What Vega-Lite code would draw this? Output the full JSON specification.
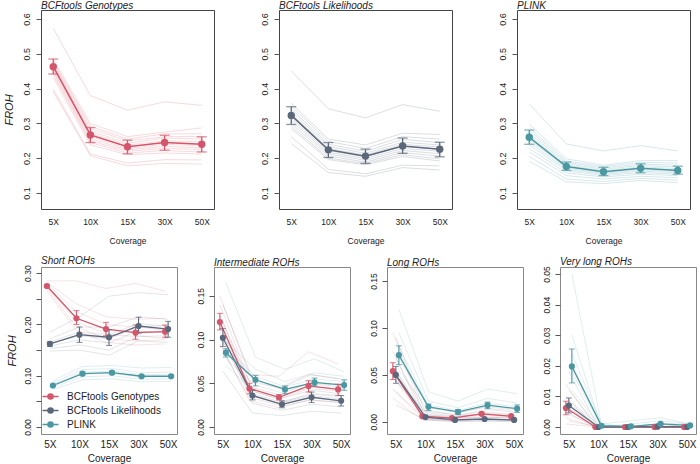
{
"$schema":"https://vega.github.io/schema/vega-lite/v6.json",
"background":"white",
"padding":{"left":2,"top":0,"right":2,"bottom":0},
"spacing":9,
"resolve":{"scale":{"color":"independent","stroke":"independent","xOffset":"independent"},"legend":{"color":"independent","stroke":"independent"}},
"datasets":{
"lines":[
{"p":"A","s":"G","id":1,"5X":0.573,"10X":0.380,"15X":0.338,"30X":0.362,"50X":0.352},
{"p":"A","s":"G","id":2,"5X":0.485,"10X":0.300,"15X":0.262,"30X":0.275,"50X":0.287},
{"p":"A","s":"G","id":3,"5X":0.480,"10X":0.292,"15X":0.255,"30X":0.270,"50X":0.270},
{"p":"A","s":"G","id":4,"5X":0.475,"10X":0.285,"15X":0.250,"30X":0.262,"50X":0.262},
{"p":"A","s":"G","id":5,"5X":0.470,"10X":0.278,"15X":0.243,"30X":0.258,"50X":0.255},
{"p":"A","s":"G","id":6,"5X":0.466,"10X":0.272,"15X":0.238,"30X":0.250,"50X":0.248},
{"p":"A","s":"G","id":7,"5X":0.462,"10X":0.268,"15X":0.233,"30X":0.245,"50X":0.242},
{"p":"A","s":"G","id":8,"5X":0.458,"10X":0.262,"15X":0.228,"30X":0.240,"50X":0.236},
{"p":"A","s":"G","id":9,"5X":0.452,"10X":0.256,"15X":0.224,"30X":0.234,"50X":0.230},
{"p":"A","s":"G","id":10,"5X":0.447,"10X":0.250,"15X":0.220,"30X":0.228,"50X":0.225},
{"p":"A","s":"G","id":11,"5X":0.440,"10X":0.245,"15X":0.215,"30X":0.222,"50X":0.218},
{"p":"A","s":"G","id":12,"5X":0.432,"10X":0.238,"15X":0.210,"30X":0.215,"50X":0.212},
{"p":"A","s":"G","id":13,"5X":0.398,"10X":0.212,"15X":0.186,"30X":0.196,"50X":0.195},
{"p":"A","s":"G","id":14,"5X":0.391,"10X":0.207,"15X":0.178,"30X":0.185,"50X":0.183},
{"p":"B","s":"L","id":1,"5X":0.451,"10X":0.342,"15X":0.316,"30X":0.354,"50X":0.335},
{"p":"B","s":"L","id":2,"5X":0.358,"10X":0.255,"15X":0.238,"30X":0.272,"50X":0.268},
{"p":"B","s":"L","id":3,"5X":0.350,"10X":0.248,"15X":0.228,"30X":0.262,"50X":0.255},
{"p":"B","s":"L","id":4,"5X":0.342,"10X":0.240,"15X":0.220,"30X":0.254,"50X":0.245},
{"p":"B","s":"L","id":5,"5X":0.335,"10X":0.234,"15X":0.214,"30X":0.246,"50X":0.238},
{"p":"B","s":"L","id":6,"5X":0.328,"10X":0.228,"15X":0.209,"30X":0.240,"50X":0.232},
{"p":"B","s":"L","id":7,"5X":0.322,"10X":0.222,"15X":0.204,"30X":0.234,"50X":0.226},
{"p":"B","s":"L","id":8,"5X":0.315,"10X":0.217,"15X":0.199,"30X":0.228,"50X":0.220},
{"p":"B","s":"L","id":9,"5X":0.308,"10X":0.212,"15X":0.194,"30X":0.222,"50X":0.213},
{"p":"B","s":"L","id":10,"5X":0.300,"10X":0.206,"15X":0.189,"30X":0.216,"50X":0.206},
{"p":"B","s":"L","id":11,"5X":0.292,"10X":0.200,"15X":0.185,"30X":0.210,"50X":0.198},
{"p":"B","s":"L","id":12,"5X":0.285,"10X":0.196,"15X":0.181,"30X":0.205,"50X":0.192},
{"p":"B","s":"L","id":13,"5X":0.262,"10X":0.168,"15X":0.155,"30X":0.180,"50X":0.178},
{"p":"B","s":"L","id":14,"5X":0.242,"10X":0.159,"15X":0.148,"30X":0.173,"50X":0.166},
{"p":"C","s":"P","id":1,"5X":0.356,"10X":0.241,"15X":0.221,"30X":0.236,"50X":0.221},
{"p":"C","s":"P","id":2,"5X":0.298,"10X":0.198,"15X":0.180,"30X":0.193,"50X":0.193},
{"p":"C","s":"P","id":3,"5X":0.288,"10X":0.192,"15X":0.176,"30X":0.188,"50X":0.186},
{"p":"C","s":"P","id":4,"5X":0.280,"10X":0.188,"15X":0.172,"30X":0.183,"50X":0.180},
{"p":"C","s":"P","id":5,"5X":0.273,"10X":0.184,"15X":0.168,"30X":0.179,"50X":0.175},
{"p":"C","s":"P","id":6,"5X":0.266,"10X":0.180,"15X":0.164,"30X":0.175,"50X":0.170},
{"p":"C","s":"P","id":7,"5X":0.260,"10X":0.176,"15X":0.160,"30X":0.171,"50X":0.166},
{"p":"C","s":"P","id":8,"5X":0.253,"10X":0.172,"15X":0.157,"30X":0.167,"50X":0.162},
{"p":"C","s":"P","id":9,"5X":0.246,"10X":0.168,"15X":0.154,"30X":0.163,"50X":0.158},
{"p":"C","s":"P","id":10,"5X":0.238,"10X":0.164,"15X":0.150,"30X":0.159,"50X":0.154},
{"p":"C","s":"P","id":11,"5X":0.228,"10X":0.158,"15X":0.146,"30X":0.154,"50X":0.150},
{"p":"C","s":"P","id":12,"5X":0.218,"10X":0.150,"15X":0.140,"30X":0.148,"50X":0.144},
{"p":"C","s":"P","id":13,"5X":0.205,"10X":0.140,"15X":0.133,"30X":0.142,"50X":0.137},
{"p":"C","s":"P","id":14,"5X":0.191,"10X":0.132,"15X":0.127,"30X":0.136,"50X":0.130},
{"p":"D","s":"G","id":1,"5X":0.285,"10X":0.285,"15X":0.270,"30X":0.280,"50X":0.265},
{"p":"D","s":"G","id":2,"5X":0.282,"10X":0.240,"15X":0.215,"30X":0.210,"50X":0.212},
{"p":"D","s":"G","id":3,"5X":0.280,"10X":0.225,"15X":0.200,"30X":0.195,"50X":0.198},
{"p":"D","s":"G","id":4,"5X":0.277,"10X":0.212,"15X":0.190,"30X":0.185,"50X":0.186},
{"p":"D","s":"G","id":5,"5X":0.274,"10X":0.205,"15X":0.182,"30X":0.176,"50X":0.178},
{"p":"D","s":"G","id":6,"5X":0.270,"10X":0.195,"15X":0.172,"30X":0.168,"50X":0.170},
{"p":"D","s":"G","id":7,"5X":0.266,"10X":0.188,"15X":0.165,"30X":0.160,"50X":0.162},
{"p":"D","s":"L","id":1,"5X":0.185,"10X":0.215,"15X":0.255,"30X":0.262,"50X":0.258},
{"p":"D","s":"L","id":2,"5X":0.172,"10X":0.195,"15X":0.195,"30X":0.215,"50X":0.210},
{"p":"D","s":"L","id":3,"5X":0.166,"10X":0.185,"15X":0.180,"30X":0.202,"50X":0.196},
{"p":"D","s":"L","id":4,"5X":0.162,"10X":0.178,"15X":0.172,"30X":0.195,"50X":0.188},
{"p":"D","s":"L","id":5,"5X":0.158,"10X":0.170,"15X":0.164,"30X":0.188,"50X":0.182},
{"p":"D","s":"L","id":6,"5X":0.153,"10X":0.160,"15X":0.150,"30X":0.178,"50X":0.172},
{"p":"D","s":"L","id":7,"5X":0.148,"10X":0.150,"15X":0.140,"30X":0.168,"50X":0.165},
{"p":"D","s":"P","id":1,"5X":0.090,"10X":0.118,"15X":0.120,"30X":0.115,"50X":0.116},
{"p":"D","s":"P","id":2,"5X":0.086,"10X":0.112,"15X":0.114,"30X":0.106,"50X":0.107},
{"p":"D","s":"P","id":3,"5X":0.083,"10X":0.107,"15X":0.109,"30X":0.102,"50X":0.102},
{"p":"D","s":"P","id":4,"5X":0.080,"10X":0.103,"15X":0.105,"30X":0.098,"50X":0.098},
{"p":"D","s":"P","id":5,"5X":0.077,"10X":0.098,"15X":0.100,"30X":0.093,"50X":0.094},
{"p":"D","s":"P","id":6,"5X":0.073,"10X":0.092,"15X":0.094,"30X":0.088,"50X":0.089},
{"p":"E","s":"G","id":1,"5X":0.150,"10X":0.060,"15X":0.058,"30X":0.086,"50X":0.072},
{"p":"E","s":"G","id":2,"5X":0.140,"10X":0.052,"15X":0.045,"30X":0.060,"50X":0.055},
{"p":"E","s":"G","id":3,"5X":0.128,"10X":0.046,"15X":0.037,"30X":0.050,"50X":0.046},
{"p":"E","s":"G","id":4,"5X":0.118,"10X":0.042,"15X":0.032,"30X":0.044,"50X":0.041},
{"p":"E","s":"G","id":5,"5X":0.108,"10X":0.036,"15X":0.027,"30X":0.038,"50X":0.035},
{"p":"E","s":"G","id":6,"5X":0.095,"10X":0.030,"15X":0.022,"30X":0.031,"50X":0.028},
{"p":"E","s":"L","id":1,"5X":0.140,"10X":0.055,"15X":0.045,"30X":0.060,"50X":0.055},
{"p":"E","s":"L","id":2,"5X":0.120,"10X":0.044,"15X":0.033,"30X":0.042,"50X":0.038},
{"p":"E","s":"L","id":3,"5X":0.106,"10X":0.038,"15X":0.028,"30X":0.036,"50X":0.032},
{"p":"E","s":"L","id":4,"5X":0.098,"10X":0.033,"15X":0.024,"30X":0.031,"50X":0.028},
{"p":"E","s":"L","id":5,"5X":0.088,"10X":0.027,"15X":0.019,"30X":0.026,"50X":0.023},
{"p":"E","s":"L","id":6,"5X":0.064,"10X":0.016,"15X":0.013,"30X":0.018,"50X":0.016},
{"p":"E","s":"P","id":1,"5X":0.165,"10X":0.080,"15X":0.066,"30X":0.078,"50X":0.063},
{"p":"E","s":"P","id":2,"5X":0.098,"10X":0.066,"15X":0.052,"30X":0.062,"50X":0.058},
{"p":"E","s":"P","id":3,"5X":0.090,"10X":0.058,"15X":0.046,"30X":0.055,"50X":0.052},
{"p":"E","s":"P","id":4,"5X":0.084,"10X":0.053,"15X":0.042,"30X":0.050,"50X":0.047},
{"p":"E","s":"P","id":5,"5X":0.078,"10X":0.048,"15X":0.038,"30X":0.046,"50X":0.043},
{"p":"E","s":"P","id":6,"5X":0.070,"10X":0.040,"15X":0.030,"30X":0.038,"50X":0.036},
{"p":"F","s":"G","id":1,"5X":0.095,"10X":0.012,"15X":0.008,"30X":0.015,"50X":0.012},
{"p":"F","s":"G","id":2,"5X":0.075,"10X":0.008,"15X":0.005,"30X":0.011,"50X":0.008},
{"p":"F","s":"G","id":3,"5X":0.060,"10X":0.006,"15X":0.004,"30X":0.009,"50X":0.006},
{"p":"F","s":"G","id":4,"5X":0.048,"10X":0.005,"15X":0.003,"30X":0.007,"50X":0.005},
{"p":"F","s":"G","id":5,"5X":0.035,"10X":0.003,"15X":0.002,"30X":0.005,"50X":0.004},
{"p":"F","s":"G","id":6,"5X":0.025,"10X":0.002,"15X":0.001,"30X":0.003,"50X":0.002},
{"p":"F","s":"L","id":1,"5X":0.090,"10X":0.010,"15X":0.006,"30X":0.008,"50X":0.006},
{"p":"F","s":"L","id":2,"5X":0.068,"10X":0.007,"15X":0.004,"30X":0.005,"50X":0.004},
{"p":"F","s":"L","id":3,"5X":0.055,"10X":0.005,"15X":0.002,"30X":0.003,"50X":0.002},
{"p":"F","s":"L","id":4,"5X":0.045,"10X":0.004,"15X":0.002,"30X":0.002,"50X":0.002},
{"p":"F","s":"L","id":5,"5X":0.032,"10X":0.003,"15X":0.001,"30X":0.001,"50X":0.001},
{"p":"F","s":"L","id":6,"5X":0.018,"10X":0.002,"15X":0.000,"30X":0.001,"50X":0.000},
{"p":"F","s":"P","id":1,"5X":0.120,"10X":0.032,"15X":0.022,"30X":0.035,"50X":0.030},
{"p":"F","s":"P","id":2,"5X":0.095,"10X":0.022,"15X":0.015,"30X":0.025,"50X":0.020},
{"p":"F","s":"P","id":3,"5X":0.080,"10X":0.018,"15X":0.012,"30X":0.020,"50X":0.016},
{"p":"F","s":"P","id":4,"5X":0.068,"10X":0.015,"15X":0.010,"30X":0.016,"50X":0.013},
{"p":"F","s":"P","id":5,"5X":0.055,"10X":0.012,"15X":0.007,"30X":0.013,"50X":0.010},
{"p":"F","s":"P","id":6,"5X":0.040,"10X":0.008,"15X":0.005,"30X":0.009,"50X":0.007},
{"p":"G","s":"G","id":1,"5X":0.014,"10X":0.000,"15X":0.000,"30X":0.000,"50X":0.000},
{"p":"G","s":"G","id":2,"5X":0.010,"10X":0.000,"15X":0.000,"30X":0.000,"50X":0.000},
{"p":"G","s":"G","id":3,"5X":0.007,"10X":0.000,"15X":0.000,"30X":0.000,"50X":0.000},
{"p":"G","s":"G","id":4,"5X":0.005,"10X":0.000,"15X":0.000,"30X":0.000,"50X":0.000},
{"p":"G","s":"G","id":5,"5X":0.003,"10X":0.000,"15X":0.000,"30X":0.000,"50X":0.000},
{"p":"G","s":"G","id":6,"5X":0.001,"10X":0.000,"15X":0.000,"30X":0.000,"50X":0.000},
{"p":"G","s":"L","id":1,"5X":0.018,"10X":0.000,"15X":0.000,"30X":0.001,"50X":0.000},
{"p":"G","s":"L","id":2,"5X":0.012,"10X":0.000,"15X":0.000,"30X":0.000,"50X":0.000},
{"p":"G","s":"L","id":3,"5X":0.008,"10X":0.000,"15X":0.000,"30X":0.000,"50X":0.000},
{"p":"G","s":"L","id":4,"5X":0.006,"10X":0.000,"15X":0.000,"30X":0.000,"50X":0.000},
{"p":"G","s":"L","id":5,"5X":0.004,"10X":0.000,"15X":0.000,"30X":0.000,"50X":0.000},
{"p":"G","s":"L","id":6,"5X":0.002,"10X":0.000,"15X":0.000,"30X":0.000,"50X":0.000},
{"p":"G","s":"P","id":1,"5X":0.050,"10X":0.001,"15X":0.002,"30X":0.003,"50X":0.001},
{"p":"G","s":"P","id":2,"5X":0.030,"10X":0.000,"15X":0.001,"30X":0.002,"50X":0.001},
{"p":"G","s":"P","id":3,"5X":0.024,"10X":0.001,"15X":0.000,"30X":0.001,"50X":0.000},
{"p":"G","s":"P","id":4,"5X":0.018,"10X":0.000,"15X":0.000,"30X":0.001,"50X":0.001},
{"p":"G","s":"P","id":5,"5X":0.012,"10X":0.000,"15X":0.000,"30X":0.000,"50X":0.000},
{"p":"G","s":"P","id":6,"5X":0.008,"10X":0.000,"15X":0.000,"30X":0.000,"50X":0.000}
],
"means":[
{"p":"A","s":"G","cov":"5X","F":0.463,"lo":0.442,"hi":0.485},
{"p":"A","s":"G","cov":"10X","F":0.267,"lo":0.245,"hi":0.288},
{"p":"A","s":"G","cov":"15X","F":0.233,"lo":0.2125,"hi":0.252},
{"p":"A","s":"G","cov":"30X","F":0.245,"lo":0.223,"hi":0.266},
{"p":"A","s":"G","cov":"50X","F":0.240,"lo":0.218,"hi":0.2615},
{"p":"B","s":"L","cov":"5X","F":0.323,"lo":0.297,"hi":0.348},
{"p":"B","s":"L","cov":"10X","F":0.224,"lo":0.202,"hi":0.245},
{"p":"B","s":"L","cov":"15X","F":0.206,"lo":0.185,"hi":0.226},
{"p":"B","s":"L","cov":"30X","F":0.235,"lo":0.214,"hi":0.258},
{"p":"B","s":"L","cov":"50X","F":0.226,"lo":0.204,"hi":0.246},
{"p":"C","s":"P","cov":"5X","F":0.260,"lo":0.240,"hi":0.281},
{"p":"C","s":"P","cov":"10X","F":0.176,"lo":0.165,"hi":0.189},
{"p":"C","s":"P","cov":"15X","F":0.161,"lo":0.150,"hi":0.174},
{"p":"C","s":"P","cov":"30X","F":0.171,"lo":0.158,"hi":0.184},
{"p":"C","s":"P","cov":"50X","F":0.165,"lo":0.154,"hi":0.177},
{"p":"D","s":"G","cov":"5X","F":0.275,"lo":0.273,"hi":0.277},
{"p":"D","s":"G","cov":"10X","F":0.212,"lo":0.200,"hi":0.227},
{"p":"D","s":"G","cov":"15X","F":0.191,"lo":0.178,"hi":0.204},
{"p":"D","s":"G","cov":"30X","F":0.184,"lo":0.171,"hi":0.199},
{"p":"D","s":"G","cov":"50X","F":0.186,"lo":0.175,"hi":0.199},
{"p":"D","s":"L","cov":"5X","F":0.162,"lo":0.157,"hi":0.166},
{"p":"D","s":"L","cov":"10X","F":0.180,"lo":0.165,"hi":0.195},
{"p":"D","s":"L","cov":"15X","F":0.175,"lo":0.159,"hi":0.190},
{"p":"D","s":"L","cov":"30X","F":0.197,"lo":0.183,"hi":0.214},
{"p":"D","s":"L","cov":"50X","F":0.191,"lo":0.175,"hi":0.206},
{"p":"D","s":"P","cov":"5X","F":0.081,"lo":0.079,"hi":0.083},
{"p":"D","s":"P","cov":"10X","F":0.104,"lo":0.101,"hi":0.107},
{"p":"D","s":"P","cov":"15X","F":0.106,"lo":0.103,"hi":0.109},
{"p":"D","s":"P","cov":"30X","F":0.099,"lo":0.097,"hi":0.101},
{"p":"D","s":"P","cov":"50X","F":0.099,"lo":0.097,"hi":0.101},
{"p":"E","s":"G","cov":"5X","F":0.120,"lo":0.111,"hi":0.130},
{"p":"E","s":"G","cov":"10X","F":0.044,"lo":0.038,"hi":0.050},
{"p":"E","s":"G","cov":"15X","F":0.034,"lo":0.031,"hi":0.037},
{"p":"E","s":"G","cov":"30X","F":0.047,"lo":0.040,"hi":0.053},
{"p":"E","s":"G","cov":"50X","F":0.043,"lo":0.036,"hi":0.049},
{"p":"E","s":"L","cov":"5X","F":0.102,"lo":0.092,"hi":0.1125},
{"p":"E","s":"L","cov":"10X","F":0.036,"lo":0.031,"hi":0.042},
{"p":"E","s":"L","cov":"15X","F":0.026,"lo":0.022,"hi":0.030},
{"p":"E","s":"L","cov":"30X","F":0.034,"lo":0.028,"hi":0.040},
{"p":"E","s":"L","cov":"50X","F":0.030,"lo":0.024,"hi":0.036},
{"p":"E","s":"P","cov":"5X","F":0.085,"lo":0.080,"hi":0.0895},
{"p":"E","s":"P","cov":"10X","F":0.054,"lo":0.047,"hi":0.059},
{"p":"E","s":"P","cov":"15X","F":0.043,"lo":0.038,"hi":0.047},
{"p":"E","s":"P","cov":"30X","F":0.051,"lo":0.047,"hi":0.056},
{"p":"E","s":"P","cov":"50X","F":0.048,"lo":0.042,"hi":0.054},
{"p":"F","s":"G","cov":"5X","F":0.054,"lo":0.045,"hi":0.063},
{"p":"F","s":"G","cov":"10X","F":0.006,"lo":0.005,"hi":0.007},
{"p":"F","s":"G","cov":"15X","F":0.004,"lo":0.0035,"hi":0.0045},
{"p":"F","s":"G","cov":"30X","F":0.0085,"lo":0.0075,"hi":0.0095},
{"p":"F","s":"G","cov":"50X","F":0.006,"lo":0.005,"hi":0.007},
{"p":"F","s":"L","cov":"5X","F":0.050,"lo":0.041,"hi":0.059},
{"p":"F","s":"L","cov":"10X","F":0.005,"lo":0.004,"hi":0.006},
{"p":"F","s":"L","cov":"15X","F":0.002,"lo":0.0015,"hi":0.0025},
{"p":"F","s":"L","cov":"30X","F":0.003,"lo":0.0025,"hi":0.0035},
{"p":"F","s":"L","cov":"50X","F":0.002,"lo":0.0015,"hi":0.0025},
{"p":"F","s":"P","cov":"5X","F":0.071,"lo":0.061,"hi":0.081},
{"p":"F","s":"P","cov":"10X","F":0.016,"lo":0.012,"hi":0.019},
{"p":"F","s":"P","cov":"15X","F":0.0105,"lo":0.008,"hi":0.013},
{"p":"F","s":"P","cov":"30X","F":0.0177,"lo":0.014,"hi":0.021},
{"p":"F","s":"P","cov":"50X","F":0.014,"lo":0.010,"hi":0.018},
{"p":"G","s":"G","cov":"5X","F":0.0062,"lo":0.0040,"hi":0.0084},
{"p":"G","s":"G","cov":"10X","F":0.0,"lo":0.0,"hi":0.0},
{"p":"G","s":"G","cov":"15X","F":0.0,"lo":0.0,"hi":0.0},
{"p":"G","s":"G","cov":"30X","F":0.0,"lo":0.0,"hi":0.0},
{"p":"G","s":"G","cov":"50X","F":0.0,"lo":0.0,"hi":0.0},
{"p":"G","s":"L","cov":"5X","F":0.0070,"lo":0.0046,"hi":0.0095},
{"p":"G","s":"L","cov":"10X","F":0.0,"lo":0.0,"hi":0.0},
{"p":"G","s":"L","cov":"15X","F":0.0,"lo":0.0,"hi":0.0},
{"p":"G","s":"L","cov":"30X","F":0.0001,"lo":0.0,"hi":0.0002},
{"p":"G","s":"L","cov":"50X","F":0.0,"lo":0.0,"hi":0.0},
{"p":"G","s":"P","cov":"5X","F":0.0198,"lo":0.0144,"hi":0.0255},
{"p":"G","s":"P","cov":"10X","F":0.0004,"lo":0.0002,"hi":0.0006},
{"p":"G","s":"P","cov":"15X","F":0.0002,"lo":0.0001,"hi":0.0003},
{"p":"G","s":"P","cov":"30X","F":0.0010,"lo":0.0007,"hi":0.0013},
{"p":"G","s":"P","cov":"50X","F":0.0005,"lo":0.0003,"hi":0.0007}
]
},
"vconcat":[
{"hconcat":[
{"width":173,"height":199,"title":{"text":"BCFtools Genotypes"},"view":{"stroke":"#444"},
"encoding":{"x":{"field":"cov","type":"ordinal","scale":{"type":"point","domain":["5X","10X","15X","30X","50X"],"padding":0.33},"axis":{"title":"Coverage","labelFontSize":8.5,"titleFontSize":8.5,"labelPadding":8,"titlePadding":11}},
"y":{"field":"F","type":"quantitative","scale":{"domain":[0.054,0.626],"nice":false,"zero":false},"axis":{"title":"FROH","values":[0.1,0.2,0.3,0.4,0.5,0.6],"format":".1f","titlePadding":8,"labelPadding":5,"labelFontSize":9}}},
"layer":[
{"data":{"name":"lines"},"transform":[{"filter":"datum.p=='A'"},{"fold":["5X","10X","15X","30X","50X"],"as":["cov","F"]}],"mark":{"type":"line","strokeWidth":0.8,"opacity":0.28},"encoding":{"color":{"field":"s","type":"nominal","scale":{"domain":["G","L","P"],"range":["#d4566a","#5b687c","#4b98a2"]},"legend":null},"detail":{"field":"id","type":"nominal"}}},
{"data":{"name":"means"},"transform":[{"filter":"datum.p=='A'"}],"mark":{"type":"line","strokeWidth":1.5},"encoding":{"color":{"field":"s","type":"nominal","scale":{"domain":["G","L","P"],"range":["#d4566a","#5b687c","#4b98a2"]},"legend":null}}},
{"data":{"name":"means"},"transform":[{"filter":"datum.p=='A'"}],"mark":{"type":"rule","strokeWidth":1.3},"encoding":{"y":{"field":"lo","type":"quantitative"},"y2":{"field":"hi"},"color":{"field":"s","type":"nominal","scale":{"domain":["G","L","P"],"range":["#d4566a","#5b687c","#4b98a2"]},"legend":null}}},
{"data":{"name":"means"},"transform":[{"filter":"datum.p=='A'"}],"mark":{"type":"tick","thickness":1.3,"size":10},"encoding":{"y":{"field":"lo","type":"quantitative"},"color":{"field":"s","type":"nominal","scale":{"domain":["G","L","P"],"range":["#d4566a","#5b687c","#4b98a2"]},"legend":null}}},
{"data":{"name":"means"},"transform":[{"filter":"datum.p=='A'"}],"mark":{"type":"tick","thickness":1.3,"size":10},"encoding":{"y":{"field":"hi","type":"quantitative"},"color":{"field":"s","type":"nominal","scale":{"domain":["G","L","P"],"range":["#d4566a","#5b687c","#4b98a2"]},"legend":null}}},
{"data":{"name":"means"},"transform":[{"filter":"datum.p=='A'"}],"mark":{"type":"point","filled":true,"size":55,"opacity":1},"encoding":{"color":{"field":"s","type":"nominal","scale":{"domain":["G","L","P"],"range":["#d4566a","#5b687c","#4b98a2"]},"legend":null}}},
{"data":{"values":[{"t":"A)"}]},"mark":{"type":"text","align":"left","baseline":"alphabetic","dx":-51,"dy":-1,"fontSize":11},"encoding":{"x":{"datum":"5X","type":"ordinal"},"y":{"datum":0.626,"type":"quantitative"},"text":{"field":"t","type":"nominal"},"color":{"value":"#111"}}}
]},
{"width":173,"height":199,"title":{"text":"BCFtools Likelihoods"},"view":{"stroke":"#444"},
"encoding":{"x":{"field":"cov","type":"ordinal","scale":{"type":"point","domain":["5X","10X","15X","30X","50X"],"padding":0.33},"axis":{"title":"Coverage","labelFontSize":8.5,"titleFontSize":8.5,"labelPadding":8,"titlePadding":11}},
"y":{"field":"F","type":"quantitative","scale":{"domain":[0.054,0.626],"nice":false,"zero":false},"axis":{"title":null,"values":[0.1,0.2,0.3,0.4,0.5,0.6],"format":".1f","labelPadding":5,"labelFontSize":9}}},
"layer":[
{"data":{"name":"lines"},"transform":[{"filter":"datum.p=='B'"},{"fold":["5X","10X","15X","30X","50X"],"as":["cov","F"]}],"mark":{"type":"line","strokeWidth":0.8,"opacity":0.28},"encoding":{"color":{"field":"s","type":"nominal","scale":{"domain":["G","L","P"],"range":["#d4566a","#5b687c","#4b98a2"]},"legend":null},"detail":{"field":"id","type":"nominal"}}},
{"data":{"name":"means"},"transform":[{"filter":"datum.p=='B'"}],"mark":{"type":"line","strokeWidth":1.5},"encoding":{"color":{"field":"s","type":"nominal","scale":{"domain":["G","L","P"],"range":["#d4566a","#5b687c","#4b98a2"]},"legend":null}}},
{"data":{"name":"means"},"transform":[{"filter":"datum.p=='B'"}],"mark":{"type":"rule","strokeWidth":1.3},"encoding":{"y":{"field":"lo","type":"quantitative"},"y2":{"field":"hi"},"color":{"field":"s","type":"nominal","scale":{"domain":["G","L","P"],"range":["#d4566a","#5b687c","#4b98a2"]},"legend":null}}},
{"data":{"name":"means"},"transform":[{"filter":"datum.p=='B'"}],"mark":{"type":"tick","thickness":1.3,"size":10},"encoding":{"y":{"field":"lo","type":"quantitative"},"color":{"field":"s","type":"nominal","scale":{"domain":["G","L","P"],"range":["#d4566a","#5b687c","#4b98a2"]},"legend":null}}},
{"data":{"name":"means"},"transform":[{"filter":"datum.p=='B'"}],"mark":{"type":"tick","thickness":1.3,"size":10},"encoding":{"y":{"field":"hi","type":"quantitative"},"color":{"field":"s","type":"nominal","scale":{"domain":["G","L","P"],"range":["#d4566a","#5b687c","#4b98a2"]},"legend":null}}},
{"data":{"name":"means"},"transform":[{"filter":"datum.p=='B'"}],"mark":{"type":"point","filled":true,"size":55,"opacity":1},"encoding":{"color":{"field":"s","type":"nominal","scale":{"domain":["G","L","P"],"range":["#d4566a","#5b687c","#4b98a2"]},"legend":null}}},
{"data":{"values":[{"t":"B)"}]},"mark":{"type":"text","align":"left","baseline":"alphabetic","dx":-56,"dy":-1,"fontSize":11},"encoding":{"x":{"datum":"5X","type":"ordinal"},"y":{"datum":0.626,"type":"quantitative"},"text":{"field":"t","type":"nominal"},"color":{"value":"#111"}}}
]},
{"width":173,"height":199,"title":{"text":"PLINK"},"view":{"stroke":"#444"},
"encoding":{"x":{"field":"cov","type":"ordinal","scale":{"type":"point","domain":["5X","10X","15X","30X","50X"],"padding":0.33},"axis":{"title":"Coverage","labelFontSize":8.5,"titleFontSize":8.5,"labelPadding":8,"titlePadding":11}},
"y":{"field":"F","type":"quantitative","scale":{"domain":[0.054,0.626],"nice":false,"zero":false},"axis":{"title":null,"values":[0.1,0.2,0.3,0.4,0.5,0.6],"format":".1f","labelPadding":5,"labelFontSize":9}}},
"layer":[
{"data":{"name":"lines"},"transform":[{"filter":"datum.p=='C'"},{"fold":["5X","10X","15X","30X","50X"],"as":["cov","F"]}],"mark":{"type":"line","strokeWidth":0.8,"opacity":0.28},"encoding":{"color":{"field":"s","type":"nominal","scale":{"domain":["G","L","P"],"range":["#d4566a","#5b687c","#4b98a2"]},"legend":null},"detail":{"field":"id","type":"nominal"}}},
{"data":{"name":"means"},"transform":[{"filter":"datum.p=='C'"}],"mark":{"type":"line","strokeWidth":1.5},"encoding":{"color":{"field":"s","type":"nominal","scale":{"domain":["G","L","P"],"range":["#d4566a","#5b687c","#4b98a2"]},"legend":null}}},
{"data":{"name":"means"},"transform":[{"filter":"datum.p=='C'"}],"mark":{"type":"rule","strokeWidth":1.3},"encoding":{"y":{"field":"lo","type":"quantitative"},"y2":{"field":"hi"},"color":{"field":"s","type":"nominal","scale":{"domain":["G","L","P"],"range":["#d4566a","#5b687c","#4b98a2"]},"legend":null}}},
{"data":{"name":"means"},"transform":[{"filter":"datum.p=='C'"}],"mark":{"type":"tick","thickness":1.3,"size":10},"encoding":{"y":{"field":"lo","type":"quantitative"},"color":{"field":"s","type":"nominal","scale":{"domain":["G","L","P"],"range":["#d4566a","#5b687c","#4b98a2"]},"legend":null}}},
{"data":{"name":"means"},"transform":[{"filter":"datum.p=='C'"}],"mark":{"type":"tick","thickness":1.3,"size":10},"encoding":{"y":{"field":"hi","type":"quantitative"},"color":{"field":"s","type":"nominal","scale":{"domain":["G","L","P"],"range":["#d4566a","#5b687c","#4b98a2"]},"legend":null}}},
{"data":{"name":"means"},"transform":[{"filter":"datum.p=='C'"}],"mark":{"type":"point","filled":true,"size":55,"opacity":1},"encoding":{"color":{"field":"s","type":"nominal","scale":{"domain":["G","L","P"],"range":["#d4566a","#5b687c","#4b98a2"]},"legend":null}}},
{"data":{"values":[{"t":"C)"}]},"mark":{"type":"text","align":"left","baseline":"alphabetic","dx":-46,"dy":-1,"fontSize":11},"encoding":{"x":{"datum":"5X","type":"ordinal"},"y":{"datum":0.626,"type":"quantitative"},"text":{"field":"t","type":"nominal"},"color":{"value":"#111"}}}
]}
],"spacing":65,"bounds":"flush","resolve":{"scale":{"color":"independent","stroke":"independent","xOffset":"independent"},"legend":{"color":"independent","stroke":"independent"}}},
{"hconcat":[
{"width":136,"height":167,"title":{"text":"Short ROHs"},"view":{"stroke":"#888"},
"encoding":{"x":{"field":"cov","type":"ordinal","scale":{"type":"point","domain":["5X","10X","15X","30X","50X"],"padding":0.3},"axis":{"title":"Coverage","labelFontSize":10,"titleFontSize":10,"labelPadding":5,"titlePadding":4}},
"y":{"field":"F","type":"quantitative","scale":{"domain":[-0.0136,0.312],"nice":false,"zero":false},"axis":{"title":"FROH","values":[0,0.05,0.1,0.15,0.2,0.25,0.3],"labelExpr":"round(datum.value*100)%10==0 ? format(datum.value,'.2f') : ''","titlePadding":6,"labelPadding":4}}},
"layer":[
{"data":{"name":"lines"},"transform":[{"filter":"datum.p=='D'"},{"fold":["5X","10X","15X","30X","50X"],"as":["cov","F"]}],"mark":{"type":"line","strokeWidth":0.7,"opacity":0.25},"encoding":{"color":{"field":"s","type":"nominal","scale":{"domain":["G","L","P"],"range":["#d4566a","#5b687c","#4b98a2"]},"legend":{"orient":"bottom-left","title":null,"labelExpr":"datum.label=='G' ? 'BCFtools Genotypes' : datum.label=='L' ? 'BCFtools Likelihoods' : 'PLINK'","symbolType":"M-1.4,0H1.4M-0.45,0A0.45,0.45,0,1,1,0.45,0A0.45,0.45,0,1,1,-0.45,0Z","symbolSize":130,"labelFontSize":10,"labelOffset":10,"rowPadding":1,"offset":3,"padding":0,"labelColor":"#222","symbolOpacity":1,"symbolStrokeWidth":1.5,"encode":{"symbols":{"update":{"opacity":{"value":1},"fillOpacity":{"value":1},"strokeOpacity":{"value":1},"strokeWidth":{"value":1.5},"fill":{"signal":"datum.value=='G' ? '#d4566a' : datum.value=='L' ? '#5b687c' : '#4b98a2'"},"stroke":{"signal":"datum.value=='G' ? '#d4566a' : datum.value=='L' ? '#5b687c' : '#4b98a2'"}}}}}},"detail":{"field":"id","type":"nominal"},"xOffset":{"field":"s","type":"nominal","scale":{"type":"point","domain":["G","L","P"],"range":[-4.5,4.5]}}}},
{"data":{"name":"means"},"transform":[{"filter":"datum.p=='D'"}],"mark":{"type":"line","strokeWidth":1.3},"encoding":{"color":{"field":"s","type":"nominal","scale":{"domain":["G","L","P"],"range":["#d4566a","#5b687c","#4b98a2"]}},"xOffset":{"field":"s","type":"nominal","scale":{"type":"point","domain":["G","L","P"],"range":[-4.5,4.5]}}}},
{"data":{"name":"means"},"transform":[{"filter":"datum.p=='D'"}],"mark":{"type":"rule","strokeWidth":1.1},"encoding":{"y":{"field":"lo","type":"quantitative"},"y2":{"field":"hi"},"color":{"field":"s","type":"nominal","scale":{"domain":["G","L","P"],"range":["#d4566a","#5b687c","#4b98a2"]}},"xOffset":{"field":"s","type":"nominal","scale":{"type":"point","domain":["G","L","P"],"range":[-4.5,4.5]}}}},
{"data":{"name":"means"},"transform":[{"filter":"datum.p=='D'"}],"mark":{"type":"tick","thickness":1.1,"size":6},"encoding":{"y":{"field":"lo","type":"quantitative"},"color":{"field":"s","type":"nominal","scale":{"domain":["G","L","P"],"range":["#d4566a","#5b687c","#4b98a2"]}},"xOffset":{"field":"s","type":"nominal","scale":{"type":"point","domain":["G","L","P"],"range":[-4.5,4.5]}}}},
{"data":{"name":"means"},"transform":[{"filter":"datum.p=='D'"}],"mark":{"type":"tick","thickness":1.1,"size":6},"encoding":{"y":{"field":"hi","type":"quantitative"},"color":{"field":"s","type":"nominal","scale":{"domain":["G","L","P"],"range":["#d4566a","#5b687c","#4b98a2"]}},"xOffset":{"field":"s","type":"nominal","scale":{"type":"point","domain":["G","L","P"],"range":[-4.5,4.5]}}}},
{"data":{"name":"means"},"transform":[{"filter":"datum.p=='D'"}],"mark":{"type":"point","filled":true,"size":38,"opacity":1},"encoding":{"color":{"field":"s","type":"nominal","scale":{"domain":["G","L","P"],"range":["#d4566a","#5b687c","#4b98a2"]}},"xOffset":{"field":"s","type":"nominal","scale":{"type":"point","domain":["G","L","P"],"range":[-4.5,4.5]}}}},
{"data":{"values":[{"t":"D)"}]},"mark":{"type":"text","align":"left","baseline":"alphabetic","dx":-46,"dy":8,"fontSize":11},"encoding":{"x":{"datum":"5X","type":"ordinal"},"y":{"datum":0.312,"type":"quantitative"},"text":{"field":"t","type":"nominal"},"color":{"value":"#111"}}}
]},
{"width":136,"height":167,"title":{"text":"Intermediate ROHs"},"view":{"stroke":"#888"},
"encoding":{"x":{"field":"cov","type":"ordinal","scale":{"type":"point","domain":["5X","10X","15X","30X","50X"],"padding":0.3},"axis":{"title":"Coverage","labelFontSize":10,"titleFontSize":10,"labelPadding":5,"titlePadding":4}},
"y":{"field":"F","type":"quantitative","scale":{"domain":[-0.008,0.183],"nice":false,"zero":false},"axis":{"title":null,"values":[0,0.05,0.1,0.15],"format":".2f","labelPadding":4}}},
"layer":[
{"data":{"name":"lines"},"transform":[{"filter":"datum.p=='E'"},{"fold":["5X","10X","15X","30X","50X"],"as":["cov","F"]}],"mark":{"type":"line","strokeWidth":0.7,"opacity":0.25},"encoding":{"color":{"field":"s","type":"nominal","scale":{"domain":["G","L","P"],"range":["#d4566a","#5b687c","#4b98a2"]},"legend":null},"detail":{"field":"id","type":"nominal"},"xOffset":{"field":"s","type":"nominal","scale":{"type":"point","domain":["G","L","P"],"range":[-4.5,4.5]}}}},
{"data":{"name":"means"},"transform":[{"filter":"datum.p=='E'"}],"mark":{"type":"line","strokeWidth":1.3},"encoding":{"color":{"field":"s","type":"nominal","scale":{"domain":["G","L","P"],"range":["#d4566a","#5b687c","#4b98a2"]},"legend":null},"xOffset":{"field":"s","type":"nominal","scale":{"type":"point","domain":["G","L","P"],"range":[-4.5,4.5]}}}},
{"data":{"name":"means"},"transform":[{"filter":"datum.p=='E'"}],"mark":{"type":"rule","strokeWidth":1.1},"encoding":{"y":{"field":"lo","type":"quantitative"},"y2":{"field":"hi"},"color":{"field":"s","type":"nominal","scale":{"domain":["G","L","P"],"range":["#d4566a","#5b687c","#4b98a2"]},"legend":null},"xOffset":{"field":"s","type":"nominal","scale":{"type":"point","domain":["G","L","P"],"range":[-4.5,4.5]}}}},
{"data":{"name":"means"},"transform":[{"filter":"datum.p=='E'"}],"mark":{"type":"tick","thickness":1.1,"size":6},"encoding":{"y":{"field":"lo","type":"quantitative"},"color":{"field":"s","type":"nominal","scale":{"domain":["G","L","P"],"range":["#d4566a","#5b687c","#4b98a2"]},"legend":null},"xOffset":{"field":"s","type":"nominal","scale":{"type":"point","domain":["G","L","P"],"range":[-4.5,4.5]}}}},
{"data":{"name":"means"},"transform":[{"filter":"datum.p=='E'"}],"mark":{"type":"tick","thickness":1.1,"size":6},"encoding":{"y":{"field":"hi","type":"quantitative"},"color":{"field":"s","type":"nominal","scale":{"domain":["G","L","P"],"range":["#d4566a","#5b687c","#4b98a2"]},"legend":null},"xOffset":{"field":"s","type":"nominal","scale":{"type":"point","domain":["G","L","P"],"range":[-4.5,4.5]}}}},
{"data":{"name":"means"},"transform":[{"filter":"datum.p=='E'"}],"mark":{"type":"point","filled":true,"size":38,"opacity":1},"encoding":{"color":{"field":"s","type":"nominal","scale":{"domain":["G","L","P"],"range":["#d4566a","#5b687c","#4b98a2"]},"legend":null},"xOffset":{"field":"s","type":"nominal","scale":{"type":"point","domain":["G","L","P"],"range":[-4.5,4.5]}}}},
{"data":{"values":[{"t":"E)"}]},"mark":{"type":"text","align":"left","baseline":"alphabetic","dx":-42,"dy":8,"fontSize":11},"encoding":{"x":{"datum":"5X","type":"ordinal"},"y":{"datum":0.183,"type":"quantitative"},"text":{"field":"t","type":"nominal"},"color":{"value":"#111"}}}
]},
{"width":136,"height":167,"title":{"text":"Long ROHs"},"view":{"stroke":"#888"},
"encoding":{"x":{"field":"cov","type":"ordinal","scale":{"type":"point","domain":["5X","10X","15X","30X","50X"],"padding":0.3},"axis":{"title":"Coverage","labelFontSize":10,"titleFontSize":10,"labelPadding":5,"titlePadding":4}},
"y":{"field":"F","type":"quantitative","scale":{"domain":[-0.013,0.165],"nice":false,"zero":false},"axis":{"title":null,"values":[0,0.05,0.1,0.15],"format":".2f","labelPadding":4}}},
"layer":[
{"data":{"name":"lines"},"transform":[{"filter":"datum.p=='F'"},{"fold":["5X","10X","15X","30X","50X"],"as":["cov","F"]}],"mark":{"type":"line","strokeWidth":0.7,"opacity":0.25},"encoding":{"color":{"field":"s","type":"nominal","scale":{"domain":["G","L","P"],"range":["#d4566a","#5b687c","#4b98a2"]},"legend":null},"detail":{"field":"id","type":"nominal"},"xOffset":{"field":"s","type":"nominal","scale":{"type":"point","domain":["G","L","P"],"range":[-4.5,4.5]}}}},
{"data":{"name":"means"},"transform":[{"filter":"datum.p=='F'"}],"mark":{"type":"line","strokeWidth":1.3},"encoding":{"color":{"field":"s","type":"nominal","scale":{"domain":["G","L","P"],"range":["#d4566a","#5b687c","#4b98a2"]},"legend":null},"xOffset":{"field":"s","type":"nominal","scale":{"type":"point","domain":["G","L","P"],"range":[-4.5,4.5]}}}},
{"data":{"name":"means"},"transform":[{"filter":"datum.p=='F'"}],"mark":{"type":"rule","strokeWidth":1.1},"encoding":{"y":{"field":"lo","type":"quantitative"},"y2":{"field":"hi"},"color":{"field":"s","type":"nominal","scale":{"domain":["G","L","P"],"range":["#d4566a","#5b687c","#4b98a2"]},"legend":null},"xOffset":{"field":"s","type":"nominal","scale":{"type":"point","domain":["G","L","P"],"range":[-4.5,4.5]}}}},
{"data":{"name":"means"},"transform":[{"filter":"datum.p=='F'"}],"mark":{"type":"tick","thickness":1.1,"size":6},"encoding":{"y":{"field":"lo","type":"quantitative"},"color":{"field":"s","type":"nominal","scale":{"domain":["G","L","P"],"range":["#d4566a","#5b687c","#4b98a2"]},"legend":null},"xOffset":{"field":"s","type":"nominal","scale":{"type":"point","domain":["G","L","P"],"range":[-4.5,4.5]}}}},
{"data":{"name":"means"},"transform":[{"filter":"datum.p=='F'"}],"mark":{"type":"tick","thickness":1.1,"size":6},"encoding":{"y":{"field":"hi","type":"quantitative"},"color":{"field":"s","type":"nominal","scale":{"domain":["G","L","P"],"range":["#d4566a","#5b687c","#4b98a2"]},"legend":null},"xOffset":{"field":"s","type":"nominal","scale":{"type":"point","domain":["G","L","P"],"range":[-4.5,4.5]}}}},
{"data":{"name":"means"},"transform":[{"filter":"datum.p=='F'"}],"mark":{"type":"point","filled":true,"size":38,"opacity":1},"encoding":{"color":{"field":"s","type":"nominal","scale":{"domain":["G","L","P"],"range":["#d4566a","#5b687c","#4b98a2"]},"legend":null},"xOffset":{"field":"s","type":"nominal","scale":{"type":"point","domain":["G","L","P"],"range":[-4.5,4.5]}}}},
{"data":{"values":[{"t":"F)"}]},"mark":{"type":"text","align":"left","baseline":"alphabetic","dx":-39,"dy":8,"fontSize":11},"encoding":{"x":{"datum":"5X","type":"ordinal"},"y":{"datum":0.165,"type":"quantitative"},"text":{"field":"t","type":"nominal"},"color":{"value":"#111"}}}
]},
{"width":136,"height":167,"title":{"text":"Very long ROHs"},"view":{"stroke":"#888"},
"encoding":{"x":{"field":"cov","type":"ordinal","scale":{"type":"point","domain":["5X","10X","15X","30X","50X"],"padding":0.3},"axis":{"title":"Coverage","labelFontSize":10,"titleFontSize":10,"labelPadding":5,"titlePadding":4}},
"y":{"field":"F","type":"quantitative","scale":{"domain":[-0.0023,0.0523],"nice":false,"zero":false},"axis":{"title":null,"values":[0,0.01,0.02,0.03,0.04,0.05],"format":".2f","labelPadding":4}}},
"layer":[
{"data":{"name":"lines"},"transform":[{"filter":"datum.p=='G'"},{"fold":["5X","10X","15X","30X","50X"],"as":["cov","F"]}],"mark":{"type":"line","strokeWidth":0.7,"opacity":0.25},"encoding":{"color":{"field":"s","type":"nominal","scale":{"domain":["G","L","P"],"range":["#d4566a","#5b687c","#4b98a2"]},"legend":null},"detail":{"field":"id","type":"nominal"},"xOffset":{"field":"s","type":"nominal","scale":{"type":"point","domain":["G","L","P"],"range":[-4.5,4.5]}}}},
{"data":{"name":"means"},"transform":[{"filter":"datum.p=='G'"}],"mark":{"type":"line","strokeWidth":1.3},"encoding":{"color":{"field":"s","type":"nominal","scale":{"domain":["G","L","P"],"range":["#d4566a","#5b687c","#4b98a2"]},"legend":null},"xOffset":{"field":"s","type":"nominal","scale":{"type":"point","domain":["G","L","P"],"range":[-4.5,4.5]}}}},
{"data":{"name":"means"},"transform":[{"filter":"datum.p=='G'"}],"mark":{"type":"rule","strokeWidth":1.1},"encoding":{"y":{"field":"lo","type":"quantitative"},"y2":{"field":"hi"},"color":{"field":"s","type":"nominal","scale":{"domain":["G","L","P"],"range":["#d4566a","#5b687c","#4b98a2"]},"legend":null},"xOffset":{"field":"s","type":"nominal","scale":{"type":"point","domain":["G","L","P"],"range":[-4.5,4.5]}}}},
{"data":{"name":"means"},"transform":[{"filter":"datum.p=='G'"}],"mark":{"type":"tick","thickness":1.1,"size":6},"encoding":{"y":{"field":"lo","type":"quantitative"},"color":{"field":"s","type":"nominal","scale":{"domain":["G","L","P"],"range":["#d4566a","#5b687c","#4b98a2"]},"legend":null},"xOffset":{"field":"s","type":"nominal","scale":{"type":"point","domain":["G","L","P"],"range":[-4.5,4.5]}}}},
{"data":{"name":"means"},"transform":[{"filter":"datum.p=='G'"}],"mark":{"type":"tick","thickness":1.1,"size":6},"encoding":{"y":{"field":"hi","type":"quantitative"},"color":{"field":"s","type":"nominal","scale":{"domain":["G","L","P"],"range":["#d4566a","#5b687c","#4b98a2"]},"legend":null},"xOffset":{"field":"s","type":"nominal","scale":{"type":"point","domain":["G","L","P"],"range":[-4.5,4.5]}}}},
{"data":{"name":"means"},"transform":[{"filter":"datum.p=='G'"}],"mark":{"type":"point","filled":true,"size":38,"opacity":1},"encoding":{"color":{"field":"s","type":"nominal","scale":{"domain":["G","L","P"],"range":["#d4566a","#5b687c","#4b98a2"]},"legend":null},"xOffset":{"field":"s","type":"nominal","scale":{"type":"point","domain":["G","L","P"],"range":[-4.5,4.5]}}}},
{"data":{"values":[{"t":"G)"}]},"mark":{"type":"text","align":"left","baseline":"alphabetic","dx":-41,"dy":8,"fontSize":11},"encoding":{"x":{"datum":"5X","type":"ordinal"},"y":{"datum":0.0523,"type":"quantitative"},"text":{"field":"t","type":"nominal"},"color":{"value":"#111"}}}
]}
],"spacing":37,"bounds":"flush","resolve":{"scale":{"color":"independent","stroke":"independent","xOffset":"independent"},"legend":{"color":"independent","stroke":"independent"}}}
],
"config":{
"font":"Liberation Sans",
"view":{"strokeWidth":1},
"axis":{"grid":false,"domain":false,"titleFontWeight":"normal","labelColor":"#222","titleColor":"#222","tickColor":"#555","tickSize":5},
"axisX":{"labelAngle":0,"ticks":false,"tickSize":0},
"axisY":{"labelAngle":-90,"labelFontSize":8.5,"titleFontSize":11,"titleFontStyle":"italic"},
"title":{"anchor":"start","frame":"group","fontStyle":"italic","fontWeight":"normal","fontSize":10,"offset":-1,"color":"#222"}
}
}
